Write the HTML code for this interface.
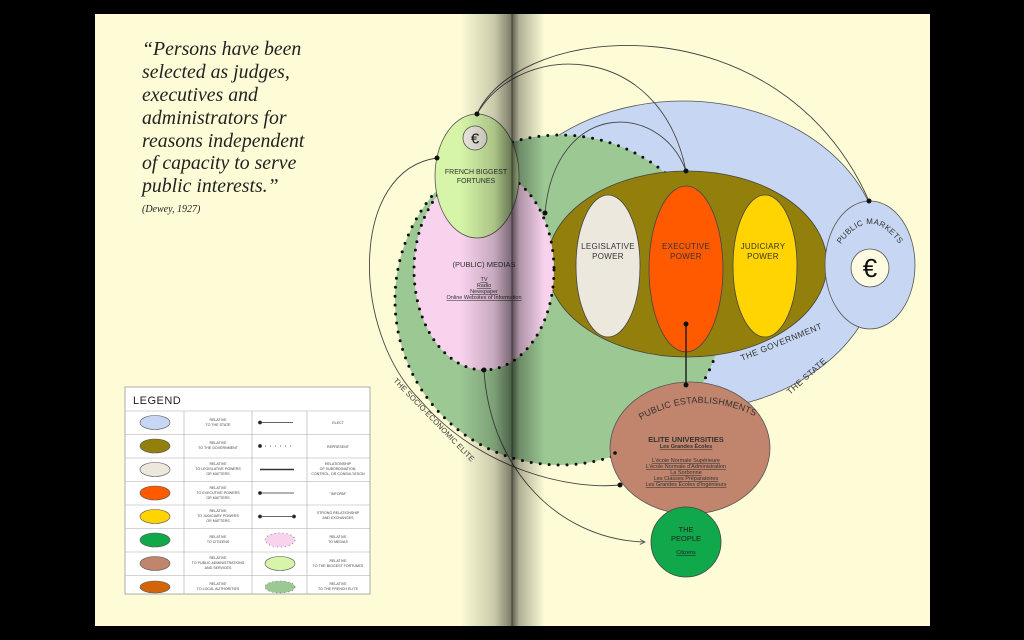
<!DOCTYPE html>
<html><head><meta charset="utf-8"><style>
html,body{margin:0;padding:0;background:#000;width:1024px;height:640px;overflow:hidden}
svg{display:block}
.s{font-family:"Liberation Sans",sans-serif}
</style></head><body>
<svg width="1024" height="640" viewBox="0 0 1024 640" xmlns="http://www.w3.org/2000/svg" class="s">
<defs>
<linearGradient id="gut" x1="0" x2="1">
<stop offset="0" stop-color="#000" stop-opacity="0"/>
<stop offset="0.4" stop-color="#000" stop-opacity="0.2"/>
<stop offset="0.6" stop-color="#000" stop-opacity="0.5"/>
<stop offset="0.62" stop-color="#000" stop-opacity="0.6"/>
<stop offset="0.7" stop-color="#000" stop-opacity="0.3"/>
<stop offset="1" stop-color="#000" stop-opacity="0"/>
</linearGradient>
<marker id="ar" viewBox="0 0 10 10" refX="9" refY="5" markerWidth="7" markerHeight="7" orient="auto"><path d="M1,1 L9,5 L1,9" fill="none" stroke="#555" stroke-width="1.5"/></marker>
</defs>
<rect x="95" y="14" width="835" height="612" fill="#fdfcd6"/>

<g font-family="Liberation Serif,serif" font-style="italic" font-size="19.8" fill="#222">
<text x="142" y="55">“Persons have been</text>
<text x="142" y="78">selected as judges,</text>
<text x="142" y="101">executives and</text>
<text x="142" y="124">administrators for</text>
<text x="142" y="147">reasons independent</text>
<text x="142" y="169">of capacity to serve</text>
<text x="142" y="192">public interests.”</text>
<text x="142" y="212" font-size="10">(Dewey, 1927)</text>
</g>

<ellipse cx="683" cy="256" rx="198" ry="155" fill="#c7d6f2" stroke="#555" stroke-width="0.8"/>
<circle cx="560" cy="300" r="165" fill="#9cc894"/>
<circle cx="560" cy="300" r="165" fill="none" stroke="#111" stroke-width="3" stroke-dasharray="0 9" stroke-linecap="round"/>
<ellipse cx="687" cy="264" rx="140" ry="93" fill="#93800c" stroke="#444" stroke-width="0.8"/>
<ellipse cx="608" cy="266" rx="32" ry="71" fill="#ece8de" stroke="#444" stroke-width="0.8"/>
<ellipse cx="686" cy="269" rx="37" ry="83" fill="#ff5a00" stroke="#444" stroke-width="0.8"/>
<ellipse cx="765" cy="266" rx="32" ry="71" fill="#ffd400" stroke="#444" stroke-width="0.8"/>
<g font-size="8" fill="#333" text-anchor="middle" letter-spacing="0.3">
<text x="608" y="249">LEGISLATIVE</text><text x="608" y="259">POWER</text>
<text x="686" y="249">EXECUTIVE</text><text x="686" y="259">POWER</text>
<text x="763" y="249">JUDICIARY</text><text x="763" y="259">POWER</text>
</g>
<text x="742" y="361" font-size="8.5" fill="#333" transform="rotate(-22 742 361)" letter-spacing="0.5">THE GOVERNMENT</text>
<text x="790" y="395" font-size="8.5" fill="#333" transform="rotate(-42 790 395)" letter-spacing="0.5">THE STATE</text>
<text x="393" y="381" font-size="7.5" fill="#333" transform="rotate(46 393 381)" letter-spacing="0.2">THE SOCIO-ECONOMIC ELITE</text>

<ellipse cx="870" cy="265" rx="45" ry="64" fill="#c7d6f2" stroke="#555" stroke-width="0.8"/>
<circle cx="870" cy="268" r="19" fill="#fdfce0" stroke="#555" stroke-width="0.8"/>
<text x="870" y="277" font-size="26" text-anchor="middle" fill="#111">€</text>
<path id="pm" d="M838,248 Q870,200 902,248" fill="none"/>
<text font-size="8" fill="#333" letter-spacing="0.3"><textPath href="#pm" startOffset="50%" text-anchor="middle">PUBLIC MARKETS</textPath></text>

<ellipse cx="484" cy="270" rx="70" ry="100" fill="#f9d3ee"/>
<ellipse cx="484" cy="270" rx="70" ry="100" fill="none" stroke="#111" stroke-width="3" stroke-dasharray="0 8.5" stroke-linecap="round"/>
<g text-anchor="middle" fill="#333">
<text x="484" y="267" font-size="7.5">(PUBLIC) MEDIAS</text>
<g font-size="5.5" text-decoration="underline"><text x="484" y="281">TV</text><text x="484" y="287">Radio</text><text x="484" y="293">Newspaper</text><text x="484" y="299">Online Websites of Information</text></g>
</g>
<ellipse cx="477" cy="176" rx="42" ry="62" fill="#d6f5a8" stroke="#555" stroke-width="0.8"/>
<circle cx="475" cy="138" r="12" fill="#ece8dc" stroke="#555" stroke-width="0.8"/>
<text x="475" y="143.5" font-size="15" text-anchor="middle" fill="#111">€</text>
<g font-size="7" fill="#333" text-anchor="middle"><text x="476" y="174">FRENCH BIGGEST</text><text x="476" y="183">FORTUNES</text></g>

<ellipse cx="690" cy="448" rx="80" ry="66" fill="#c1846c" stroke="#555" stroke-width="0.8"/>
<path id="pe" d="M634,424 Q697,384 762,420" fill="none"/>
<text font-size="9" fill="#333" letter-spacing="0.2"><textPath href="#pe" startOffset="50%" text-anchor="middle">PUBLIC ESTABLISHMENTS</textPath></text>
<g text-anchor="middle" fill="#333">
<text x="686" y="442" font-size="7.5" font-weight="bold">ELITE UNIVERSITIES</text>
<text x="686" y="448" font-size="5.5" text-decoration="underline" font-weight="bold">Les Grandes Écoles</text>
<g font-size="5.5" text-decoration="underline"><text x="686" y="462">L'école Normale Supérieure</text><text x="686" y="468">L'école Normale d'Administration</text><text x="686" y="474" text-decoration="none">La Sorbonne</text><text x="686" y="480">Les Classes Préparatoires</text><text x="686" y="486">Les Grandes Écoles d'Ingénieurs</text></g>
</g>
<circle cx="686" cy="542" r="35" fill="#10a84b" stroke="#444" stroke-width="0.8"/>
<g text-anchor="middle" fill="#222"><text x="686" y="532" font-size="7.5">THE</text><text x="686" y="541" font-size="7.5">PEOPLE</text><text x="686" y="554" font-size="5.5" text-decoration="underline">Citizens</text></g>

<g fill="none" stroke="#444" stroke-width="0.9">
<path d="M477,114 C520,20 780,0 869,201"/>
<path d="M477,114 C520,40 660,40 686,171"/>
<path d="M545,213 C555,100 660,100 686,171"/>
<path d="M437,158 C350,170 350,330 420,400 C480,470 570,490 620,485"/>
<path d="M484,370 C490,470 560,540 645,542" marker-end="url(#ar)"/>
<path d="M686,324 L686,385" stroke="#222" stroke-width="1.5"/>
</g>
<g fill="#111"><circle cx="477" cy="114" r="2.5"/><circle cx="686" cy="171" r="2.5"/><circle cx="869" cy="201" r="2.5"/><circle cx="545" cy="213" r="2.5"/><circle cx="437" cy="158" r="2.5"/><circle cx="484" cy="370" r="2.5"/><circle cx="686" cy="324" r="2.5"/><circle cx="686" cy="385" r="2.5"/><circle cx="620" cy="485" r="2.5"/><circle cx="615" cy="453" r="1.8"/></g>

<rect x="460" y="14" width="85" height="612" fill="url(#gut)"/>
<line x1="512" y1="14" x2="512" y2="626" stroke="#333" stroke-width="0.8"/>

<g>
<rect x="125" y="387" width="245" height="207" fill="#fff" stroke="#999" stroke-width="0.8"/>
<text x="133" y="404" font-size="11" fill="#222" letter-spacing="0.5">LEGEND</text>
<g stroke="#aaa" stroke-width="0.6">
<line x1="125" y1="411" x2="370" y2="411"/><line x1="125" y1="434.5" x2="370" y2="434.5"/><line x1="125" y1="458" x2="370" y2="458"/><line x1="125" y1="481.5" x2="370" y2="481.5"/><line x1="125" y1="505" x2="370" y2="505"/><line x1="125" y1="528.5" x2="370" y2="528.5"/><line x1="125" y1="552" x2="370" y2="552"/><line x1="125" y1="575.5" x2="370" y2="575.5"/>
<line x1="184" y1="411" x2="184" y2="594"/><line x1="252" y1="411" x2="252" y2="594"/><line x1="307" y1="411" x2="307" y2="594"/>
</g>
<g stroke="#555" stroke-width="0.6">
<ellipse cx="155" cy="422.5" rx="15" ry="7" fill="#c7d6f2"/>
<ellipse cx="155" cy="446" rx="15" ry="7" fill="#93800c"/>
<ellipse cx="155" cy="469.5" rx="15" ry="7" fill="#ece8de"/>
<ellipse cx="155" cy="493" rx="15" ry="7" fill="#ff5a00"/>
<ellipse cx="155" cy="516.5" rx="15" ry="7" fill="#ffd400"/>
<ellipse cx="155" cy="540" rx="15" ry="7" fill="#10a84b"/>
<ellipse cx="155" cy="563.5" rx="15" ry="7" fill="#c1846c"/>
<ellipse cx="155" cy="587" rx="15" ry="6" fill="#d2640a"/>
<ellipse cx="280" cy="540" rx="15" ry="7" fill="#f9d3ee" stroke-dasharray="1 3"/>
<ellipse cx="280" cy="563.5" rx="15" ry="7" fill="#d6f5a8"/>
<ellipse cx="280" cy="587" rx="15" ry="6" fill="#9cc894" stroke-dasharray="1 3"/>
</g>
<g stroke="#333" stroke-width="0.8" fill="#222">
<line x1="260" y1="422.5" x2="293" y2="422.5"/><circle cx="260" cy="422.5" r="1.5"/>
<line x1="260" y1="446" x2="293" y2="446" stroke-dasharray="1 4"/><circle cx="260" cy="446" r="1.5"/>
<line x1="260" y1="469.5" x2="294" y2="469.5" stroke-width="1.4"/>
<line x1="260" y1="493" x2="294" y2="493"/><circle cx="260" cy="493" r="1.5"/>
<line x1="260" y1="516.5" x2="294" y2="516.5"/><circle cx="260" cy="516.5" r="1.5"/><circle cx="294" cy="516.5" r="1.5"/>
</g>
<g font-size="3.6" fill="#444" text-anchor="middle">
<text x="218" y="421">RELATIVE</text><text x="218" y="426">TO THE STATE</text>
<text x="218" y="444">RELATIVE</text><text x="218" y="449">TO THE GOVERNMENT</text>
<text x="218" y="465">RELATIVE</text><text x="218" y="470">TO LEGISLATIVE POWERS</text><text x="218" y="475">OR MATTERS</text>
<text x="218" y="489">RELATIVE</text><text x="218" y="494">TO EXECUTIVE POWERS</text><text x="218" y="499">OR MATTERS</text>
<text x="218" y="512">RELATIVE</text><text x="218" y="517">TO JUDICIARY POWERS</text><text x="218" y="522">OR MATTERS</text>
<text x="218" y="538">RELATIVE</text><text x="218" y="543">TO CITIZENS</text>
<text x="218" y="559">RELATIVE</text><text x="218" y="564">TO PUBLIC ADMINISTRATIONS</text><text x="218" y="569">AND SERVICES</text>
<text x="218" y="585">RELATIVE</text><text x="218" y="590">TO LOCAL AUTHORITIES</text>
<text x="338" y="424">ELECT</text>
<text x="338" y="448">REPRESENT</text>
<text x="338" y="465">RELATIONSHIP</text><text x="338" y="470">OF SUBORDINATION,</text><text x="338" y="475">CONTROL, OR CONSULTATION</text>
<text x="338" y="495">"INFORM"</text>
<text x="338" y="514">STRONG RELATIONSHIP</text><text x="338" y="519">AND EXCHANGES</text>
<text x="338" y="538">RELATIVE</text><text x="338" y="543">TO MEDIAS</text>
<text x="338" y="562">RELATIVE</text><text x="338" y="567">TO THE BIGGEST FORTUNES</text>
<text x="338" y="585">RELATIVE</text><text x="338" y="590">TO THE FRENCH ELITE</text>
</g>
</g>
</svg>
</body></html>
